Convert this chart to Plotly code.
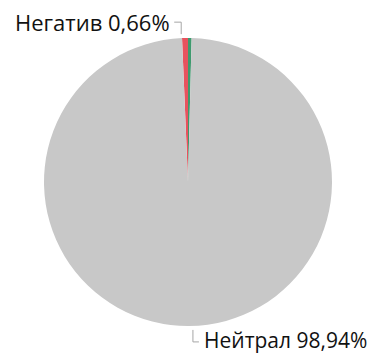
import math
import plotly.graph_objects as go

labels = ["Позитив", "Негатив", "Нейтрал"]
values = [0.40, 0.66, 98.94]
colors = ["#3E9A6E", "#E8525E", "#C8C8C8"]
shown = ["Негатив", "Нейтрал"]

W, H = 382, 355
cx, cy, R = 188, 182, 144  # pie centre / radius in px (from top-left)

fig = go.Figure(go.Pie(
    labels=labels, values=values, sort=False, direction="counterclockwise",
    rotation=0, textinfo="none", hoverinfo="label+percent",
    marker=dict(colors=colors, line=dict(width=0)),
    domain=dict(x=[(cx - R) / W, (cx + R) / W], y=[(H - cy - R) / H, (H - cy + R) / H]),
    showlegend=False,
))

def px(x, y):
    return x / W, 1 - y / H

total = sum(values)
shapes, annos = [], []
cum = 0.0
for lab, v in zip(labels, values):
    mid = (cum + v / 2) / total * 2 * math.pi
    cum += v
    if lab not in shown:
        continue
    # counterclockwise from 12 o'clock
    sx = cx - (R + 4) * math.sin(mid)
    sy = cy - (R + 4) * math.cos(mid)
    ex = sx
    up = math.cos(mid) > 0
    ey = sy - 12 if up else sy + 12
    hx = ex - 7 if up else ex + 6
    line_col = "#A6A6A6"
    for (x0, y0, x1, y1) in [(sx, sy, ex, ey), (ex, ey, hx, ey)]:
        a0 = px(x0, y0); a1 = px(x1, y1)
        shapes.append(dict(type="line", xref="paper", yref="paper",
                           x0=a0[0], y0=a0[1], x1=a1[0], y1=a1[1],
                           line=dict(color=line_col, width=1)))
    pct = f"{v / total * 100:.2f}".replace(".", ",") + "%"
    tx, ty = px(hx + (-3 if up else 4), ey - (0 if up else 1.5))
    annos.append(dict(x=tx, y=ty, xref="paper", yref="paper", showarrow=False,
                      text=f"{lab} {pct}", xanchor="right" if up else "left",
                      yanchor="middle", borderpad=0,
                      font=dict(family="Open Sans", size=22 if up else 21, color="#111111")))

fig.update_layout(
    width=W, height=H, margin=dict(l=0, r=0, t=0, b=0),
    paper_bgcolor="white", plot_bgcolor="white",
    shapes=shapes, annotations=annos,
)
fig.write_html("out.html")
